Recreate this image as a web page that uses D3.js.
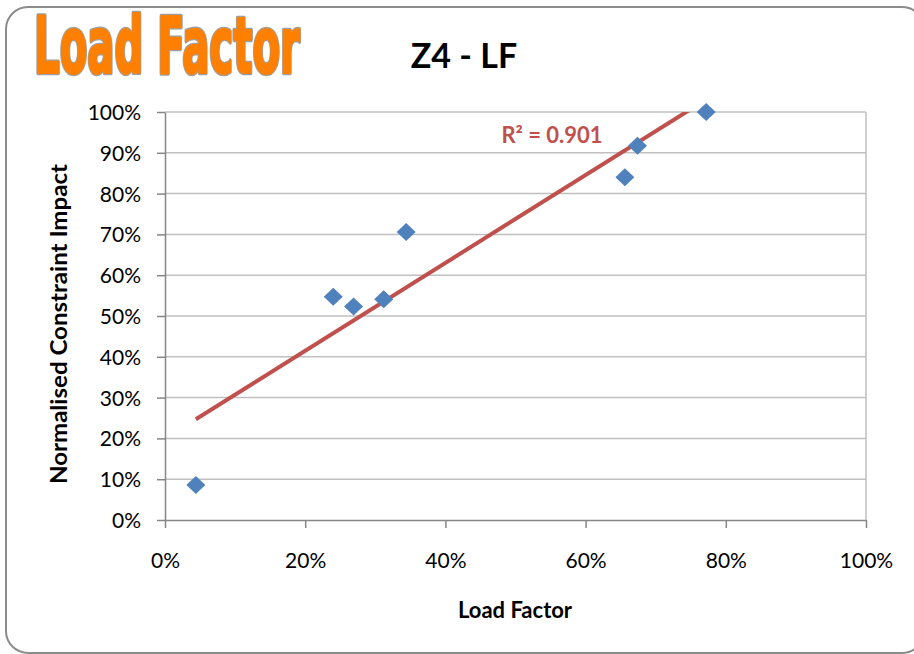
<!DOCTYPE html>
<html>
<head>
<meta charset="utf-8">
<script src="https://cdn.jsdelivr.net/npm/d3@7"></script>
<style>
  html, body { margin: 0; padding: 0; background: #ffffff; }
  svg { display: block; }
</style>
</head>
<body>
<script>
// ---- data ----
const loadFactor = [0.044, 0.240, 0.269, 0.312, 0.344, 0.656, 0.674, 0.772];
const constraintImpact = [0.086, 0.547, 0.523, 0.541, 0.706, 0.840, 0.917, 1.000];
const xTicks = [0, 0.2, 0.4, 0.6, 0.8, 1.0];
const yTicks = [0, 0.1, 0.2, 0.3, 0.4, 0.5, 0.6, 0.7, 0.8, 0.9, 1.0];
const chartTitle = "Z4 - LF";
const bannerTitle = "Load Factor";
const xAxisTitle = "Load Factor";
const yAxisTitle = "Normalised Constraint Impact";
const r2Label = "R² = 0.901";

const W = 914, H = 654;
const plot = { left: 165, right: 866, top: 112, bottom: 520 };
const font = "Lato, 'Open Sans', sans-serif";

const svg = d3.select("body").append("svg").attr("width", W).attr("height", H);

// outer frame
svg.append("rect")
  .attr("x", 6).attr("y", 7).attr("width", W + 4).attr("height", H - 8)
  .attr("rx", 22).attr("ry", 22)
  .attr("fill", "#ffffff").attr("stroke", "#8c8c8c").attr("stroke-width", 2);

// banner title (condensed, heavy, orange with grey outline)
const banner = svg.append("g");
const bannerOutline = banner.append("text")
  .attr("font-family", "'Liberation Sans Narrow', 'DejaVu Sans Condensed', sans-serif")
  .attr("font-weight", "bold").attr("font-size", 78)
  .attr("fill", "#a0a0a0").attr("stroke", "#a0a0a0").attr("stroke-width", 4.6)
  .attr("stroke-linejoin", "round")
  .text(bannerTitle);
const bannerFill = banner.append("text")
  .attr("font-family", "'Liberation Sans Narrow', 'DejaVu Sans Condensed', sans-serif")
  .attr("font-weight", "bold").attr("font-size", 78)
  .attr("fill", "#ff8000").attr("stroke", "#ff8000").attr("stroke-width", 2)
  .attr("stroke-linejoin", "round")
  .text(bannerTitle);
const natural = bannerFill.node().getComputedTextLength();
const sx = 266 / natural;
banner.attr("transform", `translate(34,73) scale(${sx},1)`);

// chart title
svg.append("text")
  .attr("x", 464).attr("y", 68)
  .attr("text-anchor", "middle")
  .attr("font-family", font).attr("font-weight", "bold").attr("font-size", 34)
  .attr("fill", "#000")
  .text(chartTitle);

const x = d3.scaleLinear().domain([0, 1]).range([plot.left, plot.right]);
const y = d3.scaleLinear().domain([0, 1]).range([plot.bottom, plot.top]);

// gridlines
svg.append("g").selectAll("line").data(yTicks.filter(d => d > 0)).join("line")
  .attr("x1", plot.left).attr("x2", plot.right)
  .attr("y1", d => y(d)).attr("y2", d => y(d))
  .attr("stroke", "#c0c0c0").attr("stroke-width", 1.5);
// right border of plot area
svg.append("line")
  .attr("x1", plot.right).attr("x2", plot.right)
  .attr("y1", plot.top).attr("y2", plot.bottom)
  .attr("stroke", "#c0c0c0").attr("stroke-width", 1.5);

// axes
const yAxis = d3.axisLeft(y).tickValues(yTicks).tickFormat(d3.format(".0%")).tickSizeInner(8).tickSizeOuter(0).tickPadding(16);
const gy = svg.append("g").attr("transform", `translate(${plot.left},0)`).call(yAxis);
const xAxis = d3.axisBottom(x).tickValues(xTicks).tickFormat(d3.format(".0%")).tickSizeInner(8).tickSizeOuter(0).tickPadding(25);
const gx = svg.append("g").attr("transform", `translate(0,${plot.bottom})`).call(xAxis);
[gx, gy].forEach(g => {
  g.select(".domain").attr("stroke", "#868686").attr("stroke-width", 1.5);
  g.selectAll(".tick line").attr("stroke", "#868686").attr("stroke-width", 1.5);
  g.selectAll(".tick text").attr("font-family", font).attr("font-size", 21).attr("fill", "#000");
});
gy.selectAll(".tick text").attr("dy", "0.36em");

// axis titles
svg.append("text")
  .attr("x", 515).attr("y", 618)
  .attr("text-anchor", "middle")
  .attr("font-family", font).attr("font-weight", "bold").attr("font-size", 22)
  .text(xAxisTitle);
svg.append("text")
  .attr("transform", `translate(67,324) rotate(-90)`)
  .attr("text-anchor", "middle")
  .attr("font-family", font).attr("font-weight", "bold").attr("font-size", 22)
  .attr("textLength", 320).attr("lengthAdjust", "spacingAndGlyphs")
  .text(yAxisTitle);

// clip
svg.append("clipPath").attr("id", "clip").append("rect")
  .attr("x", plot.left).attr("y", plot.top)
  .attr("width", plot.right - plot.left).attr("height", plot.bottom - plot.top);

// linear regression trendline
const n = loadFactor.length;
const mx = d3.mean(loadFactor), my = d3.mean(constraintImpact);
let sxy = 0, sxx = 0;
for (let i = 0; i < n; i++) {
  sxy += (loadFactor[i] - mx) * (constraintImpact[i] - my);
  sxx += (loadFactor[i] - mx) ** 2;
}
const slope = sxy / sxx, intercept = my - slope * mx;
const x0 = d3.min(loadFactor), x1 = d3.max(loadFactor);
svg.append("line")
  .attr("clip-path", "url(#clip)")
  .attr("x1", x(x0)).attr("y1", y(intercept + slope * x0))
  .attr("x2", x(x1)).attr("y2", y(intercept + slope * x1))
  .attr("stroke", "#c0504d").attr("stroke-width", 4);

// points (diamonds)
const pts = loadFactor.map((v, i) => [v, constraintImpact[i]]);
const dw = 9.5, dh = 9;
svg.append("g").selectAll("path").data(pts).join("path")
  .attr("d", d => {
    const cx = x(d[0]), cy = y(d[1]);
    return `M${cx},${cy - dh}L${cx + dw},${cy}L${cx},${cy + dh}L${cx - dw},${cy}Z`;
  })
  .attr("fill", "#4f81bd");

// R² label
svg.append("text")
  .attr("x", 552).attr("y", 143)
  .attr("text-anchor", "middle")
  .attr("font-family", font).attr("font-weight", "bold").attr("font-size", 22)
  .attr("fill", "#c0504d")
  .text(r2Label);
</script>
</body>
</html>
